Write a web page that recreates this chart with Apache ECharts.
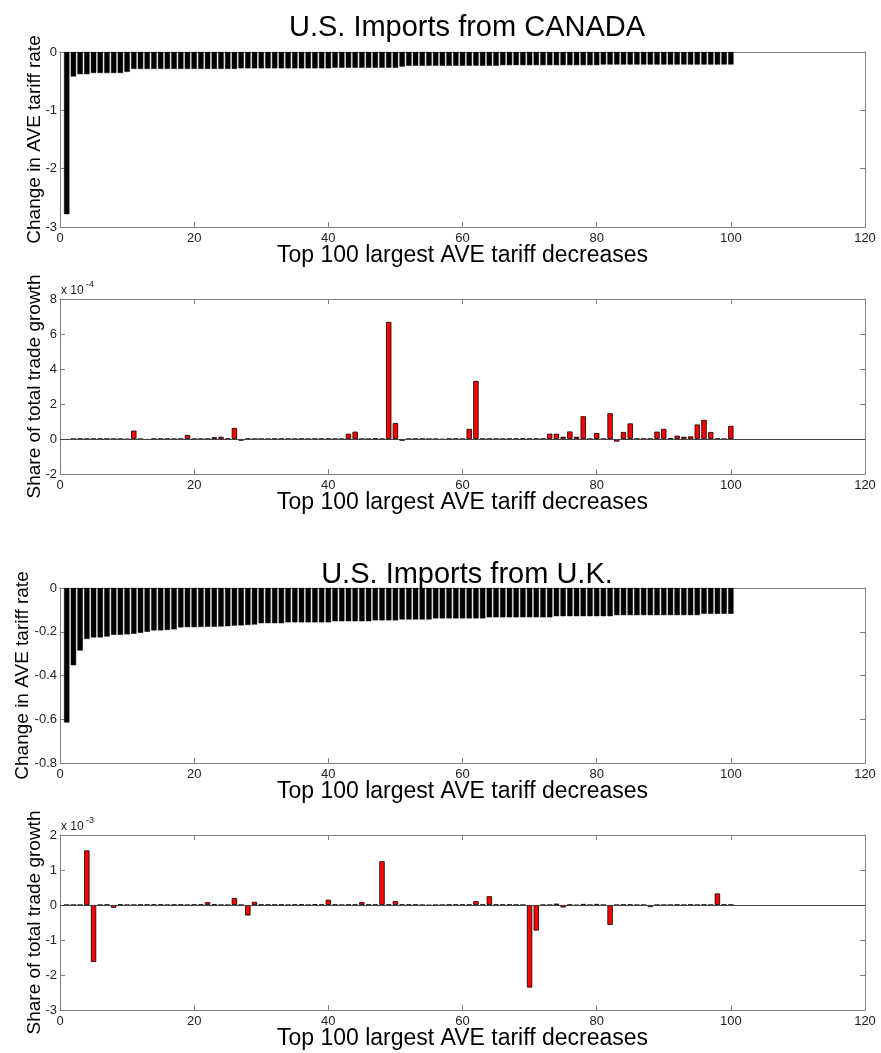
<!DOCTYPE html>
<html><head><meta charset="utf-8">
<script src="https://cdn.jsdelivr.net/npm/echarts@6/dist/echarts.min.js"></script>
<style>html,body{margin:0;padding:0;background:#fff}#c{width:881px;height:1053px}</style>
</head><body><div id="c"></div>
<script>
// x categories: rank of tariff decrease
const ranks = Array.from({length: 100}, (_, i) => i + 1);
const xTicks = [0, 20, 40, 60, 80, 100, 120];

// Panel 1: U.S. imports from Canada, change in AVE tariff rate
const canadaTariff = [
  -2.78,-0.42,-0.38,-0.38,-0.36,-0.36,-0.36,-0.36,-0.36,-0.34,
  -0.29,-0.29,-0.29,-0.29,-0.29,-0.29,-0.29,-0.29,-0.29,-0.29,
  -0.29,-0.29,-0.29,-0.29,-0.29,-0.29,-0.28,-0.28,-0.28,-0.28,
  -0.28,-0.28,-0.28,-0.28,-0.28,-0.28,-0.28,-0.28,-0.28,-0.28,
  -0.27,-0.27,-0.27,-0.27,-0.27,-0.27,-0.27,-0.27,-0.27,-0.27,
  -0.25,-0.235,-0.235,-0.235,-0.235,-0.235,-0.235,-0.235,-0.235,-0.235,
  -0.235,-0.235,-0.235,-0.235,-0.235,-0.225,-0.225,-0.225,-0.225,-0.225,
  -0.225,-0.225,-0.225,-0.225,-0.225,-0.225,-0.225,-0.225,-0.225,-0.225,
  -0.215,-0.215,-0.215,-0.215,-0.215,-0.215,-0.215,-0.215,-0.215,-0.215,
  -0.215,-0.215,-0.215,-0.215,-0.215,-0.215,-0.215,-0.215,-0.215,-0.215
];
// Panel 2: share of total trade growth (x 10^-4)
const canadaShare = [
  -0.05,0,0.01,0.01,0.01,0.01,0.01,0,0,-0.02,
  0.48,0,-0.05,0.01,0.01,0.01,0,0,0.23,0,
  0,0,0.1,0.13,0.01,0.63,-0.1,0.01,0,0,
  0,0.01,0.01,0,0,0.01,0,0.01,0.01,0.01,
  0.01,0,0.3,0.42,0,0,0.05,0.01,6.69,0.91,
  -0.1,0,0.01,0.01,0,0,-0.03,0.01,0.01,0,
  0.58,3.32,0.01,0.01,0,0,0.01,0.01,0.03,0.01,
  0.01,0.01,0.3,0.3,0.13,0.43,0.13,1.3,0,0.34,
  0,1.47,-0.15,0.4,0.89,0.01,0.01,0.01,0.42,0.58,
  0.05,0.19,0.13,0.15,0.83,1.09,0.4,0.01,0,0.75
];
// Panel 3: U.S. imports from U.K., change in AVE tariff rate
const ukTariff = [
  -0.615,-0.353,-0.286,-0.233,-0.226,-0.226,-0.222,-0.214,-0.214,-0.212,
  -0.209,-0.205,-0.2,-0.194,-0.194,-0.192,-0.189,-0.18,-0.179,-0.179,
  -0.178,-0.177,-0.177,-0.176,-0.175,-0.172,-0.171,-0.169,-0.167,-0.161,
  -0.161,-0.161,-0.161,-0.157,-0.157,-0.157,-0.157,-0.157,-0.157,-0.157,
  -0.152,-0.152,-0.152,-0.152,-0.152,-0.152,-0.148,-0.148,-0.148,-0.148,
  -0.144,-0.144,-0.144,-0.144,-0.144,-0.139,-0.139,-0.139,-0.139,-0.139,
  -0.139,-0.139,-0.139,-0.134,-0.134,-0.134,-0.134,-0.134,-0.134,-0.134,
  -0.134,-0.134,-0.134,-0.129,-0.129,-0.129,-0.129,-0.129,-0.129,-0.129,
  -0.129,-0.129,-0.124,-0.124,-0.124,-0.124,-0.124,-0.124,-0.124,-0.124,
  -0.124,-0.124,-0.124,-0.124,-0.124,-0.118,-0.118,-0.118,-0.118,-0.118
];
// Panel 4: share of total trade growth (x 10^-3)
const ukShare = [
  0,0,0,1.56,-1.63,0,0.01,-0.08,0.02,0,
  0,0.01,0.01,0.01,0.01,0,0.01,0.01,0,0.01,
  0.01,0.08,0.02,0,0,0.2,0,-0.3,0.09,0.01,
  0.01,0.01,0.01,0,0.01,0.02,0,0.02,0.01,0.15,
  0.01,0,0.01,0.01,0.08,0.01,0.01,1.25,0.01,0.11,
  0.01,0.01,0.01,0,-0.01,0,0,0.01,0.01,0.01,
  0.01,0.11,0.01,0.25,0.01,0.01,0.01,0.01,0,-2.36,
  -0.73,0,0,0.04,-0.07,0.01,-0.01,0.03,0,0.03,
  0,-0.57,0,0.01,0.01,0,0,-0.06,0,0,
  0,0.01,0,0.01,0,0.01,0,0.33,0.01,0.01
];

const titles = ['U.S. Imports from CANADA', 'U.S. Imports from U.K.'];
const xName = 'Top 100 largest AVE tariff decreases';
const yNameTariff = 'Change in AVE tariff rate';
const yNameShare = 'Share of total trade growth';
const exponents = ['-4', '-3'];

const FONT = 'Liberation Sans, Arial, sans-serif';
const AXIS_GRAY = '#808080';
const panels = [
  {top: 52, data: canadaTariff, yMin: -3, yMax: 0, yInt: 1, yName: yNameTariff, nameGap: 16, color: '#000', zero: false},
  {top: 299, data: canadaShare, yMin: -2, yMax: 8, yInt: 2, yName: yNameShare, nameGap: 16, color: '#ff0000', zero: true},
  {top: 588, data: ukTariff, yMin: -0.8, yMax: 0, yInt: 0.2, yName: yNameTariff, nameGap: 28, color: '#000', zero: false},
  {top: 835, data: ukShare, yMin: -3, yMax: 2, yInt: 1, yName: yNameShare, nameGap: 16, color: '#ff0000', zero: true}
];

const grid = [], xAxis = [], yAxis = [], series = [];
const lineStyle = {color: AXIS_GRAY, width: 1};
panels.forEach((p, g) => {
  grid.push({left: 60, right: 16, top: p.top, height: 175});
  const xBase = {gridIndex: g, type: 'value', min: xTicks[0], max: xTicks[xTicks.length - 1], interval: 20,
    splitLine: {show: false}, axisLine: {show: true, onZero: false, lineStyle},
    axisTick: {show: true, inside: true, length: 5, lineStyle}};
  xAxis.push(Object.assign({}, xBase, {position: 'bottom', name: xName, nameLocation: 'middle', nameGap: 17,
    nameMoveOverlap: false,
    nameTextStyle: {fontFamily: FONT, fontSize: 23, color: '#000'},
    axisLabel: {fontFamily: FONT, fontSize: 13, color: '#222', margin: 5}}));
  xAxis.push(Object.assign({}, xBase, {position: 'top', axisLabel: {show: false}}));
  const yBase = {gridIndex: g, type: 'value', min: p.yMin, max: p.yMax, interval: p.yInt,
    splitLine: {show: false}, axisLine: {show: true, onZero: false, lineStyle},
    axisTick: {show: true, inside: true, length: 5, lineStyle}};
  yAxis.push(Object.assign({}, yBase, {position: 'left', name: p.yName, nameLocation: 'middle', nameGap: p.nameGap, nameRotate: 90,
    nameMoveOverlap: false,
    nameTextStyle: {fontFamily: FONT, fontSize: 19, color: '#000'},
    axisLabel: {fontFamily: FONT, fontSize: 13, color: '#222', margin: 3}}));
  yAxis.push(Object.assign({}, yBase, {position: 'right', axisLabel: {show: false}}));
  const s = {type: 'bar', xAxisIndex: 2 * g, yAxisIndex: 2 * g, barWidth: '80%',
    data: p.data.map((v, i) => [ranks[i], v]),
    itemStyle: {color: p.color, borderColor: '#000', borderWidth: p.zero ? 0.8 : 0.5},
    silent: true};
  if (p.zero) {
    s.markLine = {silent: true, symbol: 'none', label: {show: false},
      lineStyle: {color: '#444', width: 1, type: 'solid'}, data: [{yAxis: 0}]};
  }
  series.push(s);
});

const option = {
  animation: false,
  backgroundColor: '#fff',
  title: [
    {text: titles[0], left: 462, top: 8, textAlign: 'center', textStyle: {fontFamily: FONT, fontSize: 29, fontWeight: 'normal', color: '#000'}},
    {text: titles[1], left: 462, top: 555, textAlign: 'center', textStyle: {fontFamily: FONT, fontSize: 29, fontWeight: 'normal', color: '#000'}}
  ],
  graphic: [
    {type: 'text', left: 61, top: 285, style: {text: 'x 10', font: '12px ' + FONT, fill: '#222'}},
    {type: 'text', left: 86, top: 280, style: {text: exponents[0], font: '9px ' + FONT, fill: '#222'}},
    {type: 'text', left: 61, top: 821, style: {text: 'x 10', font: '12px ' + FONT, fill: '#222'}},
    {type: 'text', left: 86, top: 816, style: {text: exponents[1], font: '9px ' + FONT, fill: '#222'}}
  ],
  grid, xAxis, yAxis, series
};
const chart = echarts.init(document.getElementById('c'), null, {renderer: 'canvas'});
chart.setOption(option);
</script>
</body></html>
